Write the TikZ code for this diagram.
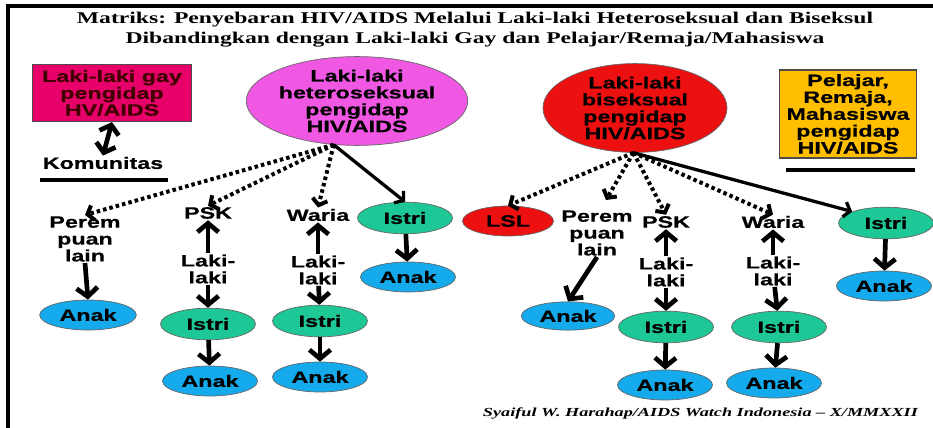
\documentclass[tikz,border=0pt]{standalone}
\usepackage{fontspec}
\setmainfont{Liberation Serif}
\newfontfamily\boxfont[FakeStretch=1.42,BoldFeatures={FakeBold=0.6}]{Liberation Sans}
\newfontfamily\headfont[FakeStretch=1.44]{Liberation Serif}
\newfontfamily\creditfont[FakeStretch=1.48]{Liberation Serif}
\usetikzlibrary{arrows.meta,shapes.geometric}
\definecolor{gaypink}{RGB}{232,0,106}
\definecolor{hetpink}{RGB}{240,88,228}
\definecolor{bisred}{RGB}{236,16,16}
\definecolor{pelgold}{RGB}{255,190,0}
\definecolor{istrigreen}{RGB}{30,200,150}
\definecolor{anakblue}{RGB}{20,170,235}
\begin{document}
\begin{tikzpicture}[x=0.03cm,y=-0.03cm,
  txt/.style={font=\boxfont\fontsize{14}{14.4}\selectfont\bfseries,align=center,inner sep=1pt},
  box_node/.style={txt,rectangle,draw=black!70,line width=1pt},
  ell_node/.style={txt,ellipse,draw=black!60,line width=0.6pt,inner sep=0pt},
  istri_node/.style={ell_node,fill=istrigreen,minimum width=2.85cm,minimum height=0.95cm},
  anak_node/.style={ell_node,fill=anakblue,minimum width=2.85cm,minimum height=0.9cm},
  solid_arr/.style={line width=2.8pt,-{Straight Barb[length=5pt,width=13pt]}},
  big_arr/.style={line width=4pt,-{Straight Barb[length=7.5pt,width=18pt]}},
  dot_arr/.style={line width=3.4pt,dash pattern=on 3pt off 2.6pt,-{Straight Barb[length=5pt,width=13pt]}}]

  \useasboundingbox (0,0) rectangle (933,428);
  % frame
  \draw[line width=3pt] (8,428) -- (8,6) -- (933,6);

  % title
  \node[font=\headfont\fontsize{14}{17}\selectfont\bfseries,align=center] (title) at (475,30)
    {Matriks: Penyebaran HIV/AIDS Melalui Laki-laki Heteroseksual dan Biseksul\\
     Dibandingkan dengan Laki-laki Gay dan Pelajar/Remaja/Mahasiswa};

  % top row
  \node[box_node,fill=gaypink,text=black!75!red,minimum width=4.77cm,minimum height=1.71cm] (gay) at (112,93)
    {Laki-laki gay\\pengidap\\HV/AIDS};
  \node[txt] (kom) at (103,163) {Komunitas};
  \node[ell_node,fill=hetpink,minimum width=5.7cm,minimum height=2.34cm] (het) at (357,101)
    {Laki-laki\\heteroseksual\\pengidap\\HIV/AIDS};
  \node[ell_node,fill=bisred,minimum width=5.52cm,minimum height=2.52cm] (bis) at (635,108)
    {Laki-laki\\biseksual\\pengidap\\HIV/AIDS};
  \node[box_node,fill=pelgold,minimum width=4.11cm,minimum height=2.64cm,line width=1.6pt] (pel) at (848,114)
    {Pelajar,\\Remaja,\\Mahasiswa\\pengidap\\HIV/AIDS};
  \draw[line width=2.6pt] (40,180) -- (168,180);
  \draw[line width=2.6pt] (786,170) -- (915,170);
  \coordinate (hs) at (het.-118);
  \coordinate (bs) at (bis.-92);

  % left tree
  \node[txt] (pl1) at (85,239) {Perem\\puan\\lain};
  \node[anak_node,minimum width=2.9cm] (anak1) at (88,315) {Anak};
  \node[txt] (psk1) at (208,213) {PSK};
  \node[txt] (lk1) at (208,269) {Laki-\\laki};
  \node[istri_node] (istri1) at (208,324) {Istri};
  \node[anak_node] (anak2) at (210,381) {Anak};
  \node[txt] (war1) at (318,215) {Waria};
  \node[txt] (lk2) at (318,270) {Laki-\\laki};
  \node[istri_node] (istri2) at (320,321) {Istri};
  \node[anak_node] (anak3) at (320,377) {Anak};
  \node[istri_node] (istri3) at (405,218) {Istri};
  \node[anak_node] (anak4) at (408,277) {Anak};

  % right tree
  \node[ell_node,fill=bisred,minimum width=2.73cm,minimum height=0.9cm] (lsl) at (508,221) {LSL};
  \node[txt] (pl2) at (597,233) {Perem\\puan\\lain};
  \coordinate (pl2t) at (606,200);
  \node[anak_node,minimum width=2.8cm,minimum height=0.85cm] (anak5) at (568,316) {Anak};
  \node[txt] (psk2) at (666,222) {PSK};
  \node[txt] (lk3) at (666,272) {Laki-\\laki};
  \node[istri_node] (istri4) at (666,327) {Istri};
  \node[anak_node] (anak6) at (665,385) {Anak};
  \node[txt] (war2) at (773,222) {Waria};
  \node[txt] (lk4) at (773,271) {Laki-\\laki};
  \node[istri_node] (istri5) at (779,327) {Istri};
  \node[anak_node] (anak7) at (774,383) {Anak};
  \node[istri_node] (istri6) at (886,223) {Istri};
  \node[anak_node] (anak8) at (884,286) {Anak};

  \node[font=\creditfont\fontsize{10.5}{12}\selectfont\bfseries\itshape,anchor=east] (credit) at (922,413)
    {Syaiful W. Harahap/AIDS Watch Indonesia – X/MMXXII};

  % gay -- komunitas
  \draw[line width=4pt,{Straight Barb[length=7pt,width=17pt]}-{Straight Barb[length=7pt,width=17pt]}] (gay.south) -- (kom.north);

  % from heteroseksual
  \draw[dot_arr] (hs) -- (pl1.north);
  \draw[dot_arr] (hs) -- (psk1.north);
  \draw[dot_arr] (hs) -- (war1.north);
  \draw[solid_arr] (hs) -- (istri3.north);
  \draw[big_arr] (pl1.south) -- (anak1.north);
  \draw[big_arr] (lk1) -- (psk1);
  \draw[big_arr] (lk1) -- (istri1);
  \draw[big_arr] (istri1) -- (anak2);
  \draw[big_arr] (lk2) -- (war1);
  \draw[big_arr] (lk2) -- (istri2);
  \draw[big_arr] (istri2) -- (anak3);
  \draw[big_arr] (istri3) -- (anak4);

  % from biseksual
  \draw[dot_arr] (bs) -- (lsl.north);
  \draw[dot_arr] (bs) -- (pl2t);
  \draw[dot_arr] (bs) -- (psk2.north);
  \draw[dot_arr] (bs) -- (war2.north);
  \draw[solid_arr] (bs) -- (istri6.north west);
  \draw[big_arr] (pl2.south) -- (anak5.north);
  \draw[big_arr] (lk3) -- (psk2);
  \draw[big_arr] (lk3) -- (istri4);
  \draw[big_arr] (istri4) -- (anak6);
  \draw[big_arr] (lk4) -- (war2);
  \draw[big_arr] (lk4) -- (istri5);
  \draw[big_arr] (istri5) -- (anak7);
  \draw[big_arr] (istri6) -- (anak8);
\end{tikzpicture}
\end{document}
